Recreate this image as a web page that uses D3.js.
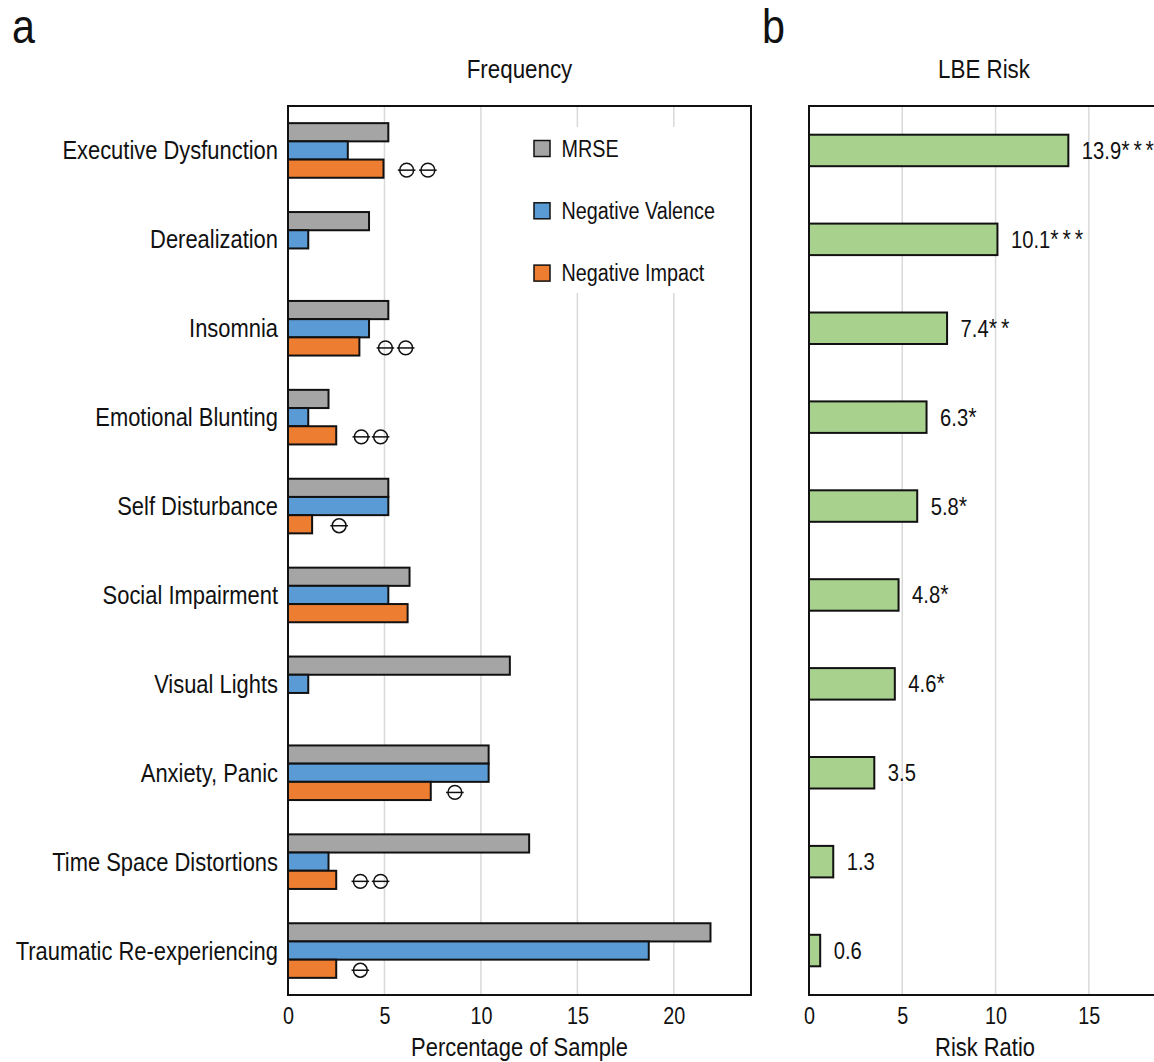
<!DOCTYPE html>
<html>
<head>
<meta charset="utf-8">
<script src="https://cdn.jsdelivr.net/npm/d3@7"></script>
<style>
  html, body { margin: 0; padding: 0; background: #fff; }
  svg text { font-family: "Liberation Sans", Arial, sans-serif; fill: #111; }
</style>
</head>
<body>
<svg id="chart" width="1154" height="1062"></svg>
<script>
const categories = ["Executive Dysfunction", "Derealization", "Insomnia", "Emotional Blunting",
  "Self Disturbance", "Social Impairment", "Visual Lights", "Anxiety, Panic",
  "Time Space Distortions", "Traumatic Re-experiencing"];
const seriesNames = ["MRSE", "Negative Valence", "Negative Impact"];
const mrse       = [5.2, 4.2, 5.2, 2.1, 5.2, 6.3, 11.5, 10.4, 12.5, 21.9];
const negValence = [3.1, 1.05, 4.2, 1.05, 5.2, 5.2, 1.05, 10.4, 2.1, 18.7];
const negImpact  = [4.95, null, 3.7, 2.5, 1.25, 6.2, null, 7.4, 2.5, 2.5];
const markers    = [[6.15, 7.25], [], [5.05, 6.1], [3.8, 4.8], [2.65], [], [], [8.65], [3.75, 4.8], [3.75]];
const riskRatio  = [13.9, 10.1, 7.4, 6.3, 5.8, 4.8, 4.6, 3.5, 1.3, 0.6];
const riskSig    = ["***", "***", "**", "*", "*", "*", "*", "", "", ""];
const freqTicks  = [0, 5, 10, 15, 20];
const riskTicks  = [0, 5, 10, 15];

const colors = ["#a5a5a5", "#5b9bd5", "#ed7d31"];
const green = "#a9d18e";
const SX = 0.86; // horizontal condensing of the sans font
const svg = d3.select("#chart");

function txt(g, x, y, s, size, anchor) {
  return g.append("text")
    .attr("transform", `translate(${x},${y}) scale(${SX},1)`)
    .attr("font-size", size).attr("text-anchor", anchor || "start").text(s);
}

const plotTop = 106, plotBottom = 995;
const y = d3.scaleBand().domain(categories).range([plotTop, plotBottom]);
const cy = c => y(c) + y.bandwidth() / 2;

// ---------- Panel a ----------
const xa = d3.scaleLinear().domain([0, 24]).range([288, 751]);
const series = [mrse, negValence, negImpact];
const barH = 18.2;
const groupOff = -27.3;

const ga = svg.append("g");
ga.selectAll("line.grid").data(freqTicks.filter(d => d > 0)).join("line").attr("class", "grid")
  .attr("x1", d => xa(d)).attr("x2", d => xa(d))
  .attr("y1", plotTop).attr("y2", plotBottom)
  .attr("stroke", "#d9d9d9").attr("stroke-width", 1.5);

ga.append("rect").attr("x", 520).attr("y", 127).attr("width", 222).attr("height", 166).attr("fill", "#fff");

series.forEach((vals, si) => {
  ga.selectAll("rect.s" + si).data(categories.map((c, i) => ({c, v: vals[i]})).filter(d => d.v != null))
    .join("rect").attr("class", "s" + si)
    .attr("x", xa(0))
    .attr("y", d => cy(d.c) + groupOff + si * barH)
    .attr("width", d => xa(d.v) - xa(0))
    .attr("height", barH)
    .attr("fill", colors[si])
    .attr("stroke", "#111").attr("stroke-width", 2);
});

const mk = [];
categories.forEach((c, i) => markers[i].forEach(v => mk.push({c, v})));
const mg = ga.selectAll("g.mk").data(mk).join("g").attr("class", "mk")
  .attr("transform", d => `translate(${xa(d.v)},${cy(d.c) + groupOff + 2.5 * barH + 1.5})`);
mg.append("circle").attr("r", 6.9).attr("fill", "none").attr("stroke", "#111").attr("stroke-width", 1.5);
mg.append("line").attr("x1", -8.8).attr("x2", 8.8).attr("stroke", "#111").attr("stroke-width", 1.5);

ga.append("rect").attr("x", xa(0)).attr("y", plotTop).attr("width", xa(24) - xa(0)).attr("height", plotBottom - plotTop)
  .attr("fill", "none").attr("stroke", "#111").attr("stroke-width", 2);

ga.selectAll("text.cat").data(categories).join("text").attr("class", "cat")
  .attr("transform", d => `translate(278,${cy(d) + 9}) scale(${SX},1)`)
  .attr("text-anchor", "end").attr("font-size", 25.5).text(d => d);

const axA = d3.axisBottom(xa).tickValues(freqTicks).tickSize(0).tickPadding(0);
const axAg = ga.append("g").attr("transform", `translate(0,${plotBottom})`).call(axA);
axAg.select(".domain").remove();
axAg.attr("font-family", null).attr("font-size", null);
axAg.selectAll("text").attr("font-size", 23).attr("dy", 0).attr("y", 0)
  .attr("transform", `translate(0,29) scale(${SX},1)`).attr("fill", "#111");

txt(ga, (xa(0) + xa(24)) / 2, 1056, "Percentage of Sample", 25.5, "middle");
txt(ga, (xa(0) + xa(24)) / 2, 77.5, "Frequency", 26, "middle");
txt(svg, 12, 43, "a", 48);

const lg = ga.selectAll("g.lg").data(seriesNames).join("g").attr("class", "lg")
  .attr("transform", (d, i) => `translate(534,${148.5 + i * 62.3})`);
lg.append("rect").attr("x", 0).attr("y", -8).attr("width", 16).attr("height", 16)
  .attr("fill", (d, i) => colors[i]).attr("stroke", "#111").attr("stroke-width", 1.5);
lg.append("text").attr("transform", `translate(27.5,8.3) scale(${SX},1)`).attr("font-size", 23).text(d => d);

// ---------- Panel b ----------
const xb = d3.scaleLinear().domain([0, 19]).range([809, 1163.5]);
const gb = svg.append("g");
gb.selectAll("line.grid").data(riskTicks.filter(d => d > 0)).join("line").attr("class", "grid")
  .attr("x1", d => xb(d)).attr("x2", d => xb(d))
  .attr("y1", plotTop).attr("y2", plotBottom)
  .attr("stroke", "#d9d9d9").attr("stroke-width", 1.5);

const rdata = categories.map((c, i) => ({c, v: riskRatio[i], s: riskSig[i]}));
const rbH = 31.5;
gb.selectAll("rect.rr").data(rdata).join("rect").attr("class", "rr")
  .attr("x", xb(0))
  .attr("y", d => cy(d.c) - rbH / 2)
  .attr("width", d => xb(d.v) - xb(0))
  .attr("height", rbH)
  .attr("fill", green).attr("stroke", "#111").attr("stroke-width", 2);

const rl = gb.selectAll("text.rl").data(rdata).join("text").attr("class", "rl")
  .attr("transform", d => `translate(${xb(d.v) + 13.5},${cy(d.c) + 8.5}) scale(${SX},1)`)
  .attr("font-size", 23.5);
rl.append("tspan").text(d => d3.format(".1f")(d.v));
rl.append("tspan").attr("font-size", 25).attr("letter-spacing", 4.5).text(d => d.s);

gb.append("rect").attr("x", xb(0)).attr("y", plotTop).attr("width", xb(19) - xb(0)).attr("height", plotBottom - plotTop)
  .attr("fill", "none").attr("stroke", "#111").attr("stroke-width", 2);

const axB = d3.axisBottom(xb).tickValues(riskTicks).tickSize(0).tickPadding(0);
const axBg = gb.append("g").attr("transform", `translate(0,${plotBottom})`).call(axB);
axBg.select(".domain").remove();
axBg.attr("font-family", null).attr("font-size", null);
axBg.selectAll("text").attr("font-size", 23).attr("dy", 0).attr("y", 0)
  .attr("transform", `translate(0,29) scale(${SX},1)`).attr("fill", "#111");

txt(gb, 985, 1056, "Risk Ratio", 25.5, "middle");
txt(gb, 984, 77.5, "LBE Risk", 26, "middle");
txt(svg, 762, 43, "b", 48);
</script>
</body>
</html>
